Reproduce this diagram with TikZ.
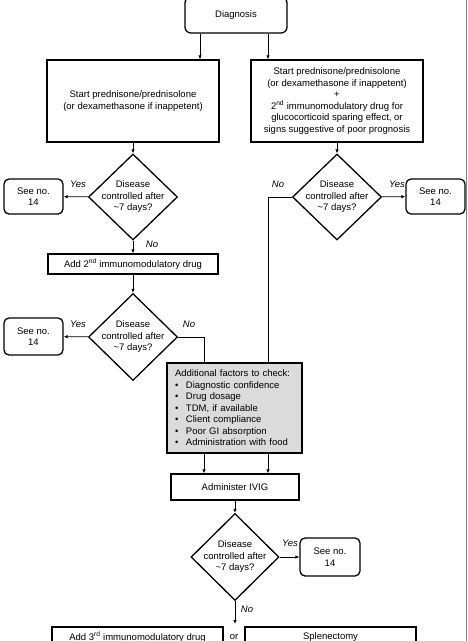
\documentclass[tikz,border=0pt]{standalone}
\usepackage{fontspec}
\setmainfont{Liberation Sans}
\usepackage{tikz}
\usetikzlibrary{shapes.geometric, positioning, calc, arrows.meta}

\newcommand{\factor}[1]{\makebox[11pt][l]{\textbullet}#1}
\newcommand{\controlq}{Disease\\controlled after\\\textasciitilde 7 days?}

\tikzset{
  flowbox/.style={draw, line width=1.3pt, align=center, inner sep=2pt,
    font=\fontsize{9.5}{11.5}\selectfont},
  roundbox/.style={flowbox, rounded corners=5pt},
  testbox/.style={flowbox, diamond, inner sep=-4pt},
  answer/.style={font=\fontsize{9.5}{11.5}\selectfont\itshape, inner sep=1pt},
  link/.style={line width=0.8pt}
}

\begin{document}
\begin{tikzpicture}[x=1pt, y=-1pt, >={Latex[length=4pt,width=3.5pt]}]
        \useasboundingbox (0,0) rectangle (468,641);
        \clip (0,0) rectangle (468,641);

        % ==========================================
        % TOP: Diagnosis and first line
        % ==========================================
        \node[roundbox, minimum width=102, minimum height=36, rounded corners=6pt] (diag) at (236,15) {Diagnosis};
        \node[flowbox, minimum width=172, minimum height=82] (start1) at (133,101)
          {Start prednisone/prednisolone\\(or dexamethasone if inappetent)};
        \node[flowbox, minimum width=172, minimum height=82] (start2) at (337,101)
          {Start prednisone/prednisolone\\(or dexamethasone if inappetent)\\+\\2\textsuperscript{nd} immunomodulatory drug for\\glucocorticoid sparing effect, or\\signs suggestive of poor prognosis};

        \draw[link, ->] ([xshift=-36pt]diag.south) -- ([xshift=-36pt]diag.south |- start1.north);
        \draw[link, ->] ([xshift=32pt]diag.south) -- ([xshift=32pt]diag.south |- start2.north);

        % ==========================================
        % LEFT BRANCH
        % ==========================================
        \node[testbox, minimum width=89, minimum height=86] (test1) at (133,197) {\controlq};
        \node[roundbox, minimum width=59, minimum height=35] (see1) at (33.5,196.5) {See no.\\14};
        \node[flowbox, minimum width=170, minimum height=20] (add2) at (133,264)
          {Add 2\textsuperscript{nd} immunomodulatory drug};
        \node[testbox, minimum width=89, minimum height=87] (test3) at (133,337) {\controlq};
        \node[roundbox, minimum width=59, minimum height=37] (see2) at (33.5,336.5) {See no.\\14};

        \draw[link, ->] (start1) -- (test1);
        \draw[link, ->] (test1) -- (see1);
        \draw[link, ->] (test1) -- (add2);
        \draw[link, ->] (add2) -- (test3);
        \draw[link, ->] (test3) -- (see2);

        \node[answer] (yes1) at (78,184) {Yes};
        \node[answer] (no1) at (152,244) {No};
        \node[answer] (yes2) at (78,324) {Yes};
        \node[answer] (no2) at (189,324) {No};

        % ==========================================
        % RIGHT BRANCH
        % ==========================================
        \node[testbox, minimum width=89, minimum height=86] (test2) at (337,197) {\controlq};
        \node[roundbox, minimum width=59, minimum height=35] (see4) at (435.5,196.5) {See no.\\14};

        \draw[link, ->] (start2) -- (test2);
        \draw[link, ->] (test2) -- (see4);

        \node[answer] (no3) at (278,184) {No};
        \node[answer] (yes3) at (397,184) {Yes};

        % ==========================================
        % MIDDLE: factors and IVIG
        % ==========================================
        \node[flowbox, fill=gray!28, text width=119pt, inner xsep=8pt, minimum height=90, align=left] (factors) at (234.5,408)
          {Additional factors to check:\\
           \factor{Diagnostic confidence}\\
           \factor{Drug dosage}\\
           \factor{TDM, if available}\\
           \factor{Client compliance}\\
           \factor{Poor GI absorption}\\
           \factor{Administration with food}};
        \node[flowbox, minimum width=128, minimum height=26] (ivig) at (235,487) {Administer IVIG};

        \draw[link] (test3.east) -| ([xshift=-30.5pt]factors.north);
        \draw[link] (test2.west) -| ([xshift=33.5pt]factors.north);
        \draw[link, ->] ([xshift=-30.5pt]factors.south) -- ([xshift=-30.5pt]factors.south |- ivig.north);
        \draw[link, ->] ([xshift=33.5pt]factors.south) -- ([xshift=33.5pt]factors.south |- ivig.north);

        % ==========================================
        % BOTTOM: last check
        % ==========================================
        \node[testbox, minimum width=88, minimum height=87] (test4) at (235,557) {\controlq};
        \node[roundbox, minimum width=60, minimum height=38] (see3) at (330,557) {See no.\\14};
        \coordinate (orgap) at (235,624);
        \node[flowbox, minimum width=171, minimum height=20] (add3) at (137.5,637)
          {Add 3\textsuperscript{rd} immunomodulatory drug};
        \node[flowbox, minimum width=171, minimum height=20] (splen) at (330.5,637) {Splenectomy};
        \node[answer, font=\fontsize{9.5}{11.5}\selectfont] (or) at (234,637) {or};

        \draw[link, ->] (ivig) -- (test4);
        \draw[link, ->] (test4) -- (see3);
        \draw[link, ->] (test4) -- (orgap);

        \node[answer] (yes4) at (290,543) {Yes};
        \node[answer] (no4) at (247,609) {No};

        % page edge
        \draw[gray, line width=0.8pt] (466,0) -- (466,641);

\end{tikzpicture}
\end{document}
